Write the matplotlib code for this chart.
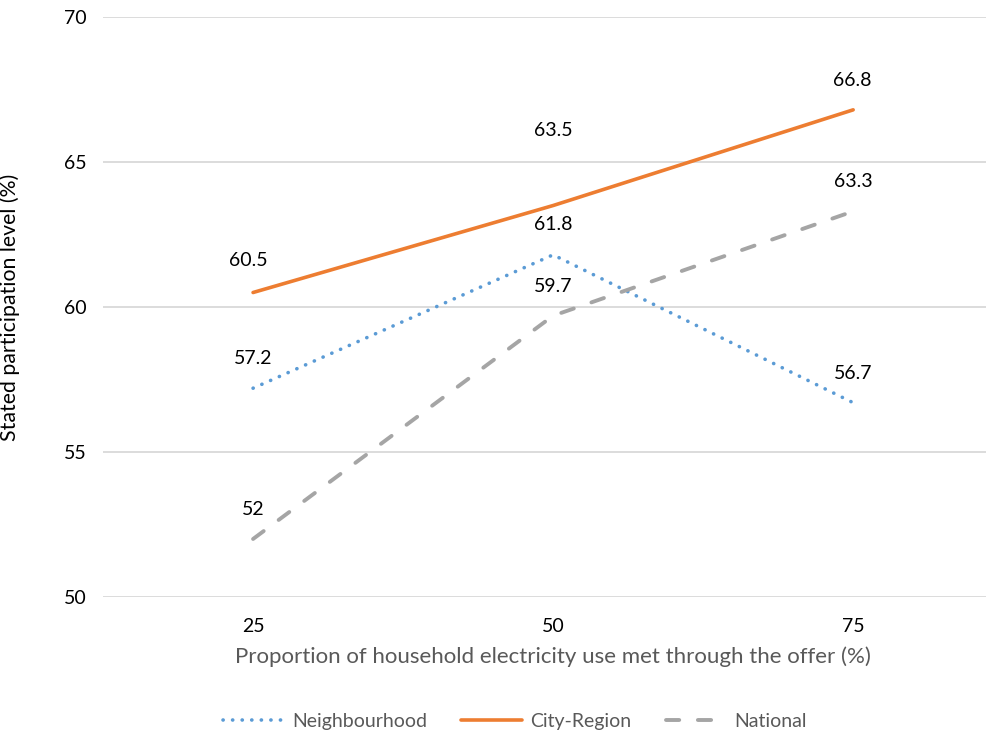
import matplotlib
matplotlib.use("Agg")
import matplotlib.pyplot as plt

categories = ["25", "50", "75"]
neighbourhood = [57.2, 61.8, 56.7]
city_region = [60.5, 63.5, 66.8]
national = [52, 59.7, 63.3]
y_ticks = [50, 55, 60, 65, 70]

plt.rcParams["font.family"] = ["Lato", "DejaVu Sans"]

fig = plt.figure(figsize=(9.87, 7.35), dpi=100)
ax = fig.add_axes([0.1044, 0.1878, 0.912, 0.789])

x = list(range(len(categories)))
ax.plot(x, neighbourhood, color="#5B9BD5", linewidth=2.6, linestyle=(0, (0.05, 2.6)),
        dash_capstyle="round", label="Neighbourhood")
ax.plot(x, city_region, color="#ED7D31", linewidth=2.6, label="City-Region",
        solid_capstyle="round")
ax.plot(x, national, color="#A5A5A5", linewidth=2.8, linestyle=(0, (3.4, 4.8)),
        dash_capstyle="round", label="National")

# data label offsets in points, as placed in the original
label_offsets = {
    "n": [(0, 21.5), (0, 21.5), (0, 21)],
    "c": [(-3.6, 23), (0, 54), (-0.5, 21)],
    "g": [(0, 21), (0, 21), (0, 21.5)],
}
for key, series in (("n", neighbourhood), ("c", city_region), ("g", national)):
    for i, v in enumerate(series):
        ax.annotate(f"{v:g}", (i, v), xytext=label_offsets[key][i],
                    textcoords="offset points", ha="center", va="center",
                    fontsize=14, color="#000000")

ax.set_xlim(-0.5, 2.5)
ax.set_ylim(50, 70)
ax.set_yticks(y_ticks)
ax.set_xticks(x)
ax.set_xticklabels(categories)
ax.tick_params(axis="both", length=0, labelsize=14, colors="#000000")
ax.tick_params(axis="x", pad=15)
ax.tick_params(axis="y", pad=12)
ax.grid(axis="y", color="#D9D9D9", linewidth=1.3)
ax.set_axisbelow(True)
for spine in ax.spines.values():
    spine.set_visible(False)

ax.set_xlabel("Proportion of household electricity use met through the offer (%)",
              fontsize=16, color="#595959", labelpad=8)
ax.set_ylabel("Stated participation level (%)", fontsize=15.3, color="#000000")
ax.yaxis.set_label_coords(-0.092, 0.5)

leg = fig.legend(loc="center", bbox_to_anchor=(0.522, 0.018), ncol=3, frameon=False,
                 fontsize=14, handlelength=3.1, columnspacing=1.75, handletextpad=0.45)
for t in leg.get_texts():
    t.set_color("#595959")

fig.savefig("out.png", dpi=100)
